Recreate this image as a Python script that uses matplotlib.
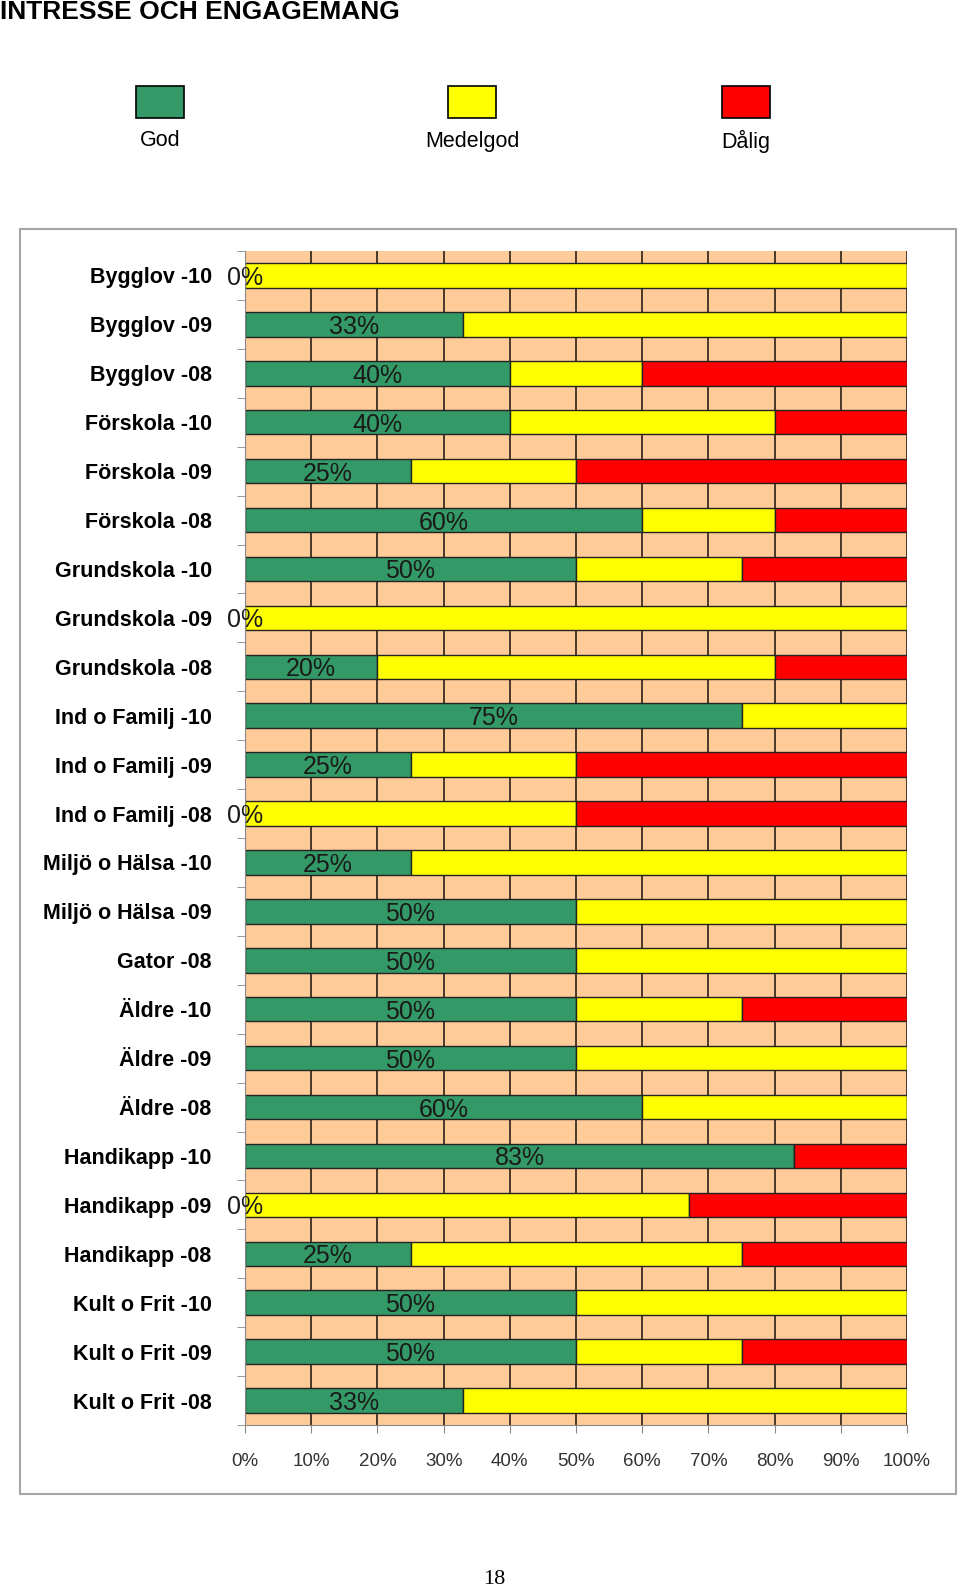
import matplotlib.pyplot as plt
from matplotlib.patches import Rectangle
from matplotlib import font_manager
import numpy as np

# categories, top to bottom
categories = ["Bygglov -10", "Bygglov -09", "Bygglov -08",
              "Förskola -10", "Förskola -09", "Förskola -08",
              "Grundskola -10", "Grundskola -09", "Grundskola -08",
              "Ind o Familj -10", "Ind o Familj -09", "Ind o Familj -08",
              "Miljö o Hälsa -10", "Miljö o Hälsa -09", "Gator -08",
              "Äldre -10", "Äldre -09", "Äldre -08",
              "Handikapp -10", "Handikapp -09", "Handikapp -08",
              "Kult o Frit -10", "Kult o Frit -09", "Kult o Frit -08"]
# shares in percent
god = [0, 33, 40, 40, 25, 60, 50, 0, 20, 75, 25, 0,
       25, 50, 50, 50, 50, 60, 83, 0, 25, 50, 50, 33]
medelgod = [100, 67, 20, 40, 25, 20, 25, 100, 60, 25, 25, 50,
            75, 50, 50, 25, 50, 40, 0, 67, 50, 50, 25, 67]
dalig = [0, 0, 40, 20, 50, 20, 25, 0, 20, 0, 50, 50,
         0, 0, 0, 25, 0, 0, 17, 33, 25, 0, 25, 0]
series_names = ["God", "Medelgod", "Dålig"]
x_ticks = [0, 10, 20, 30, 40, 50, 60, 70, 80, 90, 100]

c_god = "#339966"
c_med = "#ffff00"
c_dal = "#ff0000"
c_bg = "#ffcc99"

plt.rcParams['font.family'] = ['Liberation Sans', 'DejaVu Sans']

# narrow font for the title if it is there
names = set(f.name for f in font_manager.fontManager.ttflist)
if 'Liberation Sans Narrow' in names:
    title_font = ['Liberation Sans Narrow']
    title_size = 22.5
else:
    title_font = ['Liberation Sans']
    title_size = 19

fig = plt.figure(figsize=(9.6, 15.9), dpi=100)
W, H = 960, 1590


def fx(px):
    return px / W


def fy(py):
    return 1 - py / H


# title
fig.text(fx(0), fy(19), "INTRESSE OCH ENGAGEMANG", fontsize=title_size,
         family=title_font, fontweight='bold', ha='left', va='baseline')

# legend
legend_x = [160, 472, 746]
for name, col, cx in zip(series_names, [c_god, c_med, c_dal], legend_x):
    fig.patches.append(Rectangle((fx(cx - 24), fy(118)), 48 / W, 32 / H,
                                 transform=fig.transFigure, facecolor=col,
                                 edgecolor='black', lw=1.2))
    fig.text(fx(cx), fy(141), name, fontsize=15.5, ha='center', va='center')

# chart border
fig.patches.append(Rectangle((fx(20), fy(1494)), 936 / W, (1494 - 229) / H,
                             transform=fig.transFigure, facecolor='none',
                             edgecolor='#a6a6a6', lw=1.5))

ax = fig.add_axes([fx(245), fy(1425), (907 - 245) / W, (1425 - 251) / H])
ax.set_facecolor('none')

n = len(categories)
y = np.arange(n)
g = np.array(god)
m = np.array(medelgod)
d = np.array(dalig)

# background and grid
ax.barh(y, [100] * n, height=1.0, color=c_bg, zorder=0)
for xv in x_ticks[1:]:
    ax.axvline(xv, color='#2b2118', lw=1.2, zorder=1)

ax.barh(y, g, height=0.5, color=c_god, edgecolor='#222222', lw=1, zorder=2)
ax.barh(y, m, left=g, height=0.5, color=c_med, edgecolor='#222222', lw=1, zorder=2)
ax.barh(y, d, left=g + m, height=0.5, color=c_dal, edgecolor='#222222', lw=1, zorder=2)

for yi, gv in zip(y, g):
    ax.text(gv / 2, yi, "{}%".format(gv), fontsize=18, color='#1a1a1a',
            ha='center', va='center_baseline', zorder=3)

ax.set_xlim(0, 100)
ax.set_ylim(n - 0.5, -0.5)
ax.set_yticks(y)
ax.set_yticklabels(categories, fontsize=15.5, fontweight='bold')
ax.set_yticks(np.arange(n + 1) - 0.5, minor=True)
ax.tick_params(axis='y', which='major', length=0, pad=24)
ax.tick_params(axis='y', which='minor', length=6, color='#888888', direction='out')
ax.set_xticks(x_ticks)
ax.set_xticklabels(["{}%".format(v) for v in x_ticks], fontsize=13.5, color='#333333')
ax.tick_params(axis='x', length=6, color='#888888', pad=14)

for s in ['top', 'right']:
    ax.spines[s].set_visible(False)
for s in ['left', 'bottom']:
    ax.spines[s].set_color('#888888')

# page number
fig.text(fx(494), fy(1579), "18", fontsize=16, family=['Liberation Serif'],
         ha='center', va='center')

fig.savefig("out.png", dpi=100)
